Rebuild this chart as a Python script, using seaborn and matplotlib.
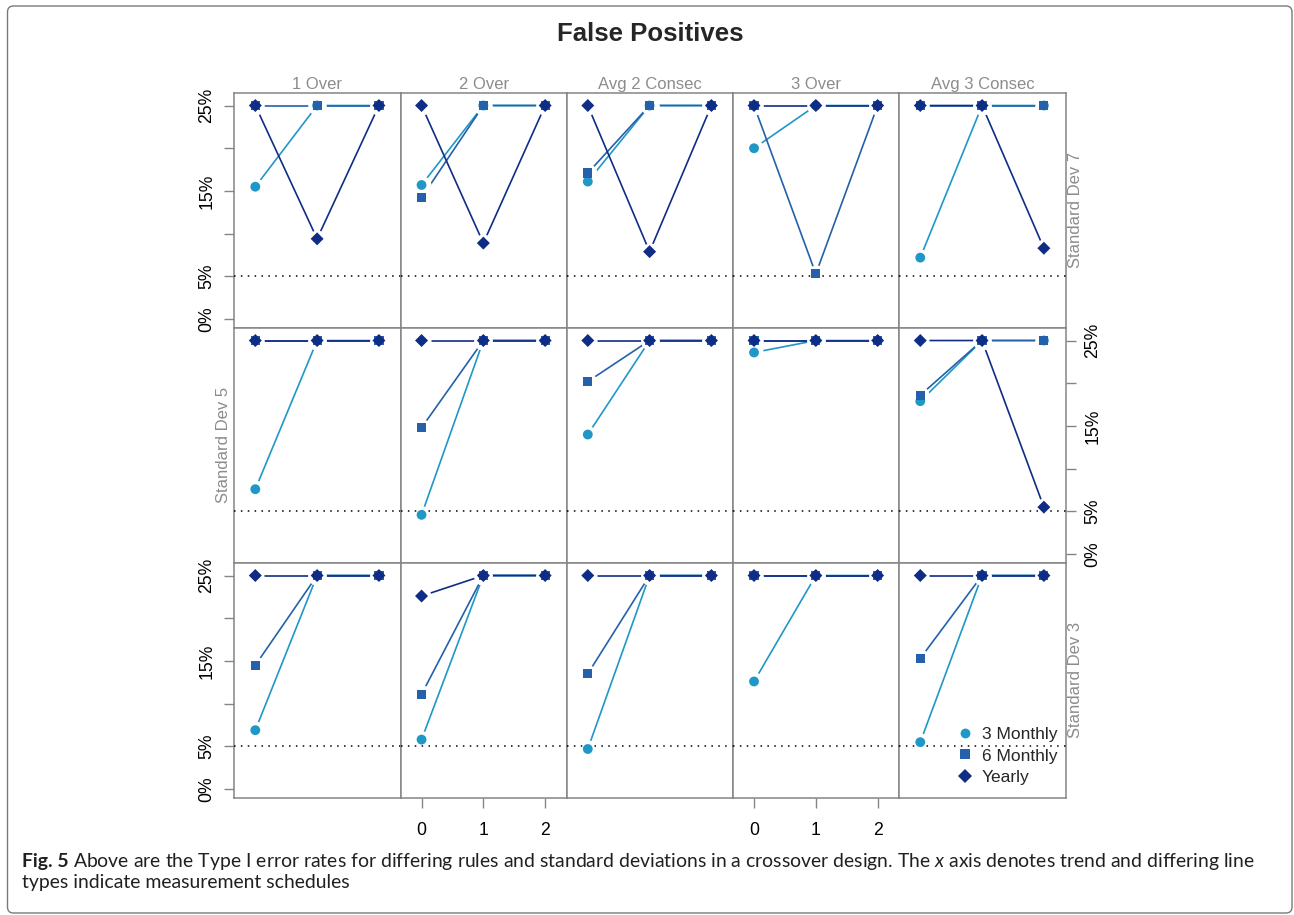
import numpy as np
import pandas as pd
import matplotlib
matplotlib.use("Agg")
import matplotlib.pyplot as plt
import seaborn as sns
from matplotlib.patches import FancyBboxPatch
from matplotlib.lines import Line2D

# ---------------- data ----------------
rules = ["1 Over", "2 Over", "Avg 2 Consec", "3 Over", "Avg 3 Consec"]
sd_labels = ["Standard Dev 7", "Standard Dev 5", "Standard Dev 3"]
schedules = ["3 Monthly", "6 Monthly", "Yearly"]
trend = [0, 1, 2]
threshold = 5
y_ticks = [0, 5, 10, 15, 20, 25]
y_tick_labels = ["0%", "5%", "", "15%", "", "25%"]
x_tick_labels = ["0", "1", "2"]

# values in percent, one [trend0, trend1, trend2] list per rule
sd7_3monthly = [[15.5, 25, 25], [15.7, 25, 25], [16.1, 25, 25], [20.0, 25, 25], [7.2, 25, 25]]
sd7_6monthly = [[25, 25, 25], [14.2, 25, 25], [17.1, 25, 25], [25, 5.3, 25], [25, 25, 25]]
sd7_yearly = [[25, 9.4, 25], [25, 8.9, 25], [25, 7.9, 25], [25, 25, 25], [25, 25, 8.3]]

sd5_3monthly = [[7.6, 25, 25], [4.6, 25, 25], [14.0, 25, 25], [23.6, 25, 25], [17.9, 25, 25]]
sd5_6monthly = [[25, 25, 25], [14.8, 25, 25], [20.2, 25, 25], [25, 25, 25], [18.6, 25, 25]]
sd5_yearly = [[25, 25, 25], [25, 25, 25], [25, 25, 25], [25, 25, 25], [25, 25, 5.5]]

sd3_3monthly = [[6.9, 25, 25], [5.8, 25, 25], [4.7, 25, 25], [12.6, 25, 25], [5.5, 25, 25]]
sd3_6monthly = [[14.5, 25, 25], [11.1, 25, 25], [13.5, 25, 25], [25, 25, 25], [15.3, 25, 25]]
sd3_yearly = [[25, 25, 25], [22.6, 25, 25], [25, 25, 25], [25, 25, 25], [25, 25, 25]]

values = {
    "Standard Dev 7": {"3 Monthly": sd7_3monthly, "6 Monthly": sd7_6monthly, "Yearly": sd7_yearly},
    "Standard Dev 5": {"3 Monthly": sd5_3monthly, "6 Monthly": sd5_6monthly, "Yearly": sd5_yearly},
    "Standard Dev 3": {"3 Monthly": sd3_3monthly, "6 Monthly": sd3_6monthly, "Yearly": sd3_yearly},
}

records = []
for sd in sd_labels:
    for ri, rule in enumerate(rules):
        for sch in schedules:
            for t, v in zip(trend, values[sd][sch][ri]):
                records.append({"sd": sd, "rule": rule, "schedule": sch, "trend": t, "rate": v})
df = pd.DataFrame(records)

# ---------------- style ----------------
frame_col = "#858585"
strip_col = "#8c8c8c"
sns.set_style("white")
plt.rcParams["font.family"] = ["Liberation Sans", "DejaVu Sans"]
plt.rcParams["mathtext.fontset"] = "custom"
plt.rcParams["mathtext.rm"] = "Lato"
plt.rcParams["mathtext.it"] = "Lato:italic"
plt.rcParams["mathtext.bf"] = "Lato:bold"
plt.rcParams.update({
    "xtick.labelsize": 12.7, "ytick.labelsize": 12.7,
    "xtick.color": frame_col, "ytick.color": frame_col,
    "xtick.labelcolor": "black", "ytick.labelcolor": "black",
    "xtick.major.size": 7.5, "ytick.major.size": 7.5,
    "xtick.major.width": 1.0, "ytick.major.width": 1.0,
    "xtick.major.pad": 10, "ytick.major.pad": 6,
})

palette = {"3 Monthly": "#1f97c7", "6 Monthly": "#2461aa", "Yearly": "#102d86"}
markers = {"3 Monthly": "o", "6 Monthly": "s", "Yearly": "D"}
sizes = {"3 Monthly": 50, "6 Monthly": 44, "Yearly": 44}

W, H = 1294, 915
fig = plt.figure(figsize=(W / 100, H / 100), dpi=100)
fig.patch.set_facecolor("white")
axes = fig.subplots(
    3, 5, sharex=True, sharey=True,
    gridspec_kw=dict(left=234.3 / W, right=1065.5 / W, top=1 - 92.7 / H,
                     bottom=1 - 797.7 / H, wspace=0, hspace=0),
)

for i, sd in enumerate(sd_labels):
    for j, rule in enumerate(rules):
        ax = axes[i][j]
        sub = df[(df["sd"] == sd) & (df["rule"] == rule)]
        sns.lineplot(data=sub, x="trend", y="rate", hue="schedule", hue_order=schedules,
                     palette=palette, estimator=None, sort=False, legend=False,
                     ax=ax, lw=1.2, zorder=2)
        sns.scatterplot(data=sub, x="trend", y="rate", color="white", s=170,
                        linewidth=0, legend=False, ax=ax, zorder=3)
        ax.axhline(threshold, color="black", lw=1.1, ls=(0, (1, 3.5)), zorder=3.5)
        sns.scatterplot(data=sub, x="trend", y="rate", hue="schedule", style="schedule",
                        size="schedule", hue_order=schedules, style_order=schedules,
                        size_order=schedules, palette=palette, markers=markers,
                        sizes=sizes, linewidth=0, legend=False, ax=ax, zorder=4)
        ax.set_xlabel("")
        ax.set_ylabel("")
        for sp in ax.spines.values():
            sp.set_visible(True)
            sp.set_color(frame_col)
            sp.set_linewidth(1.1)
        ax.tick_params(left=False, right=False, bottom=False, top=False,
                       labelleft=False, labelright=False, labelbottom=False, labeltop=False)

axes[0][0].set_xlim(-0.34, 2.35)
axes[0][0].set_ylim(-1.0, 26.5)
axes[0][0].set_xticks(trend)
axes[0][0].set_xticklabels(x_tick_labels)
axes[0][0].set_yticks(y_ticks)
axes[0][0].set_yticklabels(y_tick_labels)

axes[0][0].tick_params(axis="y", left=True, labelleft=True, labelrotation=90)
axes[2][0].tick_params(axis="y", left=True, labelleft=True, labelrotation=90)
axes[1][4].tick_params(axis="y", right=True, labelright=True, labelrotation=90)
axes[2][1].tick_params(axis="x", bottom=True, labelbottom=True)
axes[2][3].tick_params(axis="x", bottom=True, labelbottom=True)
for ax in (axes[0][0], axes[2][0], axes[1][4]):
    for lab in ax.get_yticklabels():
        lab.set_verticalalignment("center")
        lab.set_fontsize(12.7)
for ax in (axes[2][1], axes[2][3]):
    for lab in ax.get_xticklabels():
        lab.set_fontsize(12.7)

# strip labels
for j, rule in enumerate(rules):
    axes[0][j].annotate(rule, xy=(0.5, 1), xycoords="axes fraction", xytext=(0, 4),
                        textcoords="offset pixels", ha="center", va="baseline",
                        color=strip_col, fontsize=12)
axes[0][4].annotate(sd_labels[0], xy=(1, 0.5), xycoords="axes fraction", xytext=(3, 0),
                    textcoords="offset pixels", ha="left", va="center", rotation=90,
                    color=strip_col, fontsize=12)
axes[1][0].annotate(sd_labels[1], xy=(0, 0.5), xycoords="axes fraction", xytext=(-3, 0),
                    textcoords="offset pixels", ha="right", va="center", rotation=90,
                    color=strip_col, fontsize=12)
axes[2][4].annotate(sd_labels[2], xy=(1, 0.5), xycoords="axes fraction", xytext=(3, 0),
                    textcoords="offset pixels", ha="left", va="center", rotation=90,
                    color=strip_col, fontsize=12)

# legend
handles = [Line2D([], [], ls="none", marker=markers[s], color=palette[s],
                  markeredgewidth=0, markersize=np.sqrt(sizes[s])) for s in schedules]
axes[2][4].legend(handles, schedules, loc="upper left",
                  bbox_to_anchor=(956 / W, 1 - 727 / H), bbox_transform=fig.transFigure,
                  frameon=False, fontsize=12.5, handlelength=1.0, handletextpad=0.5,
                  labelspacing=0.36, borderpad=0, borderaxespad=0)

# title
fig.text(650 / W, 1 - 34 / H, "False Positives", ha="center", va="center",
         fontsize=18.5, fontweight="bold")

# caption
cap_bold = "Fig. 5"
cap_rest = (r"Above are the Type I error rates for differing rules and standard deviations "
            r"in a crossover design. The $\mathit{x}$ axis denotes trend and differing line")
cap_line2 = "types indicate measurement schedules"
cap_family = ["Lato", "DejaVu Sans"]
cap_col = "#231f20"
tb = fig.text(22 / W, 1 - 867.5 / H, cap_bold, ha="left", va="baseline",
              fontweight="bold", color=cap_col, family=cap_family)
tr = fig.text(0.1, 1 - 867.5 / H, cap_rest, ha="left", va="baseline",
              color=cap_col, family=cap_family)
t2 = fig.text(22 / W, 1 - 888 / H, cap_line2, ha="left", va="baseline",
              color=cap_col, family=cap_family)
renderer = fig.canvas.get_renderer()


def layout_caption(fs):
    for t in (tb, tr, t2):
        t.set_fontsize(fs)
    bb = tb.get_window_extent(renderer)
    space = 0.25 * fs * 100 / 72
    tr.set_x((bb.x1 + space) / W)
    return tr.get_window_extent(renderer).x1 - 22


w = layout_caption(12)
w = layout_caption(12 * 1228 / w)

# outer frame
frame = FancyBboxPatch((0.075, 0.02), 12.845, 9.07,
                       boxstyle="round,pad=0,rounding_size=0.06",
                       transform=fig.dpi_scale_trans, fill=False,
                       edgecolor="#7a7a7a", lw=1.0, zorder=10)
fig.add_artist(frame)

fig.savefig("out.png", dpi=100, facecolor="white")
